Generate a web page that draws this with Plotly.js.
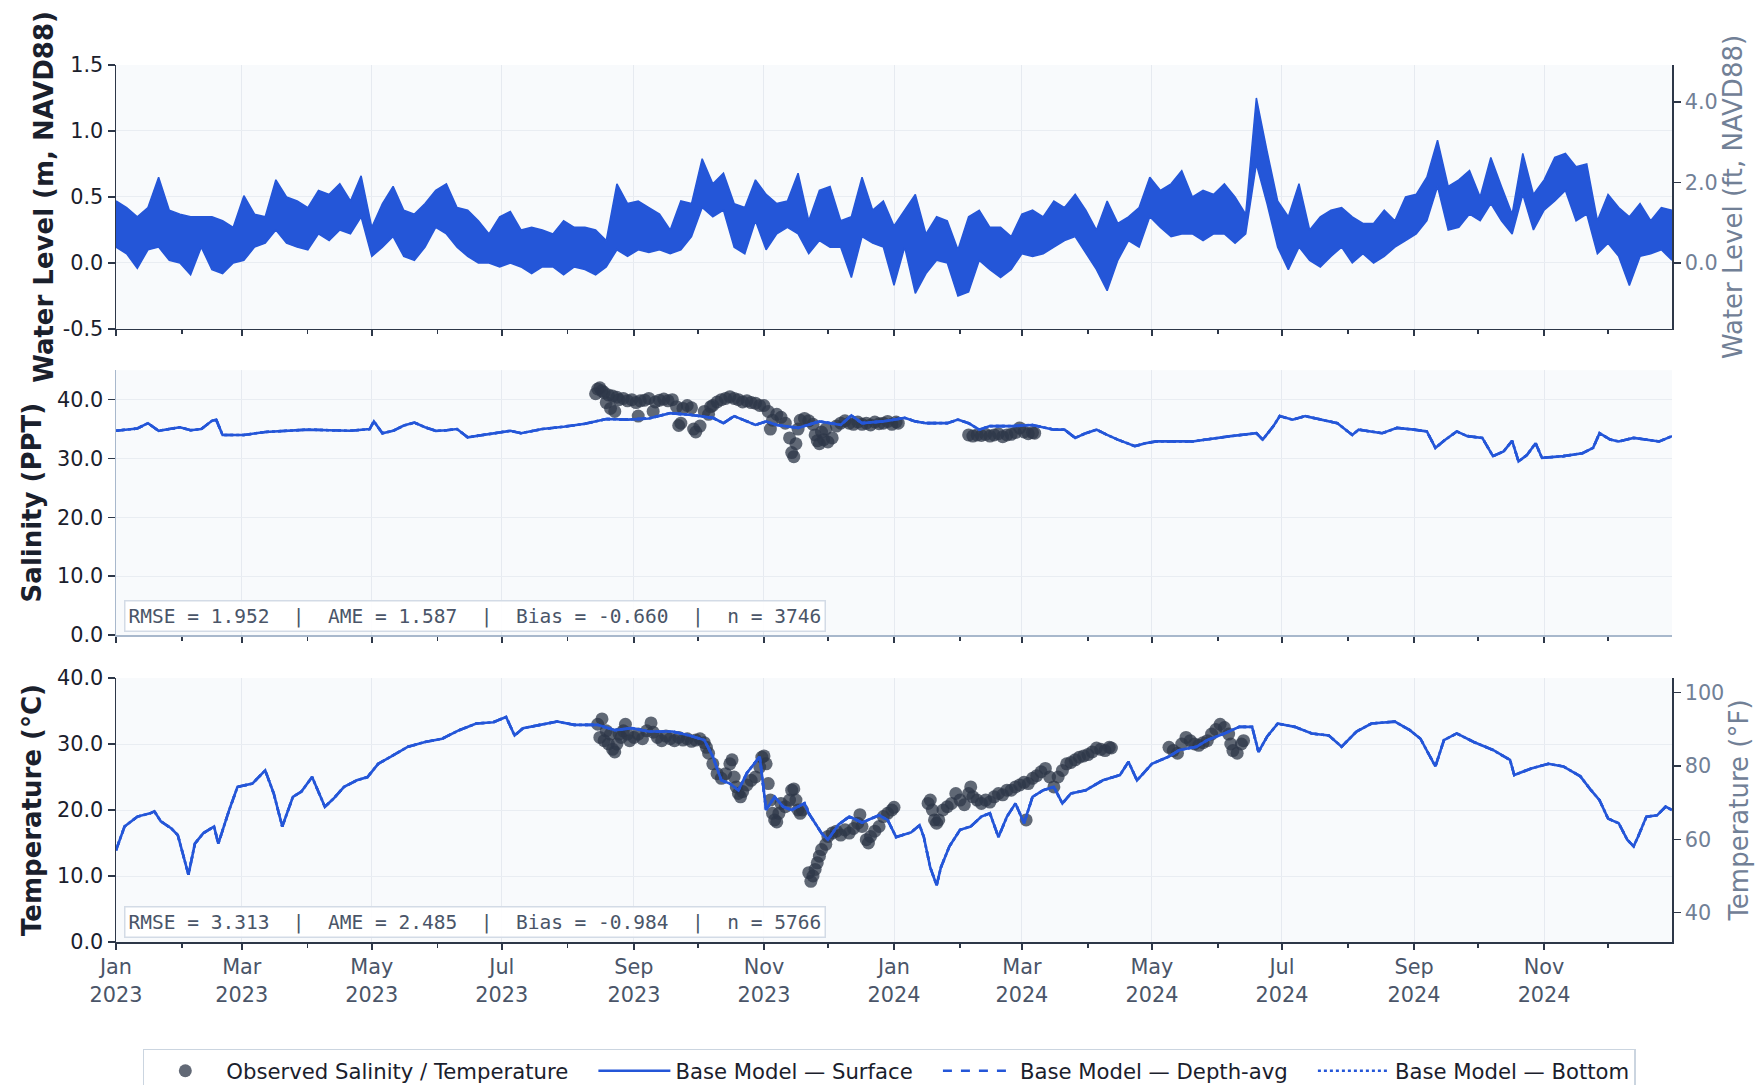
<!DOCTYPE html>
<html>
<head>
<meta charset="utf-8">
<script src="https://cdn.plot.ly/plotly-3.0.1.min.js"></script>
<style>html,body{margin:0;padding:0;background:#fff;}#chart{width:1760px;height:1085px;}</style>
</head>
<body>
<div id="chart"></div>
<script>
// ---------------- DATA (day offsets from 2023-01-01) ----------------
const startDate = '2023-01-01';

// Water level envelope (m, NAVD88), sampled every 5 days (day 0 .. 730)
const wlStepDays = 5;
const wlHigh = [0.47,0.42,0.35,0.42,0.65,0.40,0.37,0.35,0.35,0.35,0.32,0.27,0.51,0.37,0.35,0.63,0.50,0.47,0.42,0.55,0.52,0.60,0.47,0.66,0.27,0.45,0.58,0.40,0.37,0.45,0.55,0.60,0.42,0.40,0.32,0.22,0.35,
  0.39,0.25,0.27,0.25,0.22,0.32,0.27,0.27,0.25,0.17,0.60,0.45,0.47,0.42,0.37,0.25,0.47,0.45,0.79,0.60,0.68,0.45,0.42,0.63,0.52,0.45,0.47,0.68,0.32,0.55,0.58,0.32,0.35,0.65,0.40,0.47,0.28,
  0.40,0.52,0.22,0.35,0.32,0.10,0.35,0.40,0.27,0.27,0.20,0.37,0.40,0.35,0.47,0.42,0.52,0.40,0.25,0.47,0.30,0.35,0.42,0.65,0.55,0.60,0.70,0.50,0.55,0.52,0.60,0.50,0.37,1.25,0.85,0.47,0.35,
  0.60,0.25,0.35,0.40,0.42,0.35,0.30,0.30,0.40,0.32,0.50,0.52,0.65,0.93,0.58,0.63,0.70,0.50,0.80,0.58,0.37,0.83,0.52,0.63,0.80,0.83,0.73,0.75,0.32,0.52,0.42,0.35,0.45,0.32,0.42,0.40];
const wlLow = [0.12,0.07,-0.04,0.10,0.12,0.02,0.00,-0.09,0.12,-0.05,-0.08,0.00,0.02,0.12,0.15,0.25,0.15,0.12,0.10,0.22,0.17,0.25,0.22,0.35,0.05,0.12,0.20,0.05,0.02,0.12,0.27,0.22,0.12,0.05,0.00,0.00,-0.03,
  0.00,-0.03,-0.08,-0.03,-0.03,-0.09,-0.03,-0.05,-0.09,-0.03,0.10,0.05,0.10,0.08,0.10,0.07,0.10,0.20,0.42,0.35,0.40,0.12,0.07,0.32,0.10,0.22,0.27,0.22,0.07,0.17,0.12,0.12,-0.11,0.20,0.15,0.12,-0.17,
  0.12,-0.23,-0.08,0.02,0.00,-0.25,-0.22,0.02,-0.05,-0.11,-0.05,0.07,0.05,0.07,0.12,0.17,0.20,0.07,-0.05,-0.21,0.02,0.17,0.12,0.35,0.27,0.20,0.22,0.22,0.17,0.22,0.22,0.15,0.22,0.75,0.45,0.12,-0.05,
  0.12,0.02,-0.03,0.05,0.12,0.00,0.07,0.00,0.05,0.12,0.17,0.22,0.32,0.58,0.25,0.27,0.37,0.32,0.45,0.32,0.22,0.52,0.25,0.40,0.47,0.55,0.32,0.37,0.07,0.15,0.05,-0.17,0.05,0.07,0.10,0.02];

// Salinity (PPT) – model surface
const salModelDay = [0,5,10,15,20,25,30,35,40,45,47,50,60,70,80,90,100,110,119,121,125,130,135,140,145,150,155,160,165,170,175,180,185,190,200,210,220,230,240,250,260,270,280,285,290,300,305,310,320,330,340,345,350,360,370,375,380,390,395,400,405,410,420,430,440,445,450,455,460,465,470,478,483,488,505,523,535,538,543,546,552,558,566,573,580,583,594,601,609,615,619,623,629,634,641,646,651,655,658,662,666,669,679,688,693,696,701,705,712,719,724,730];
const salModel = [34.7,34.9,35.1,36.0,34.7,35.0,35.3,34.8,35.0,36.4,36.6,34.0,34.0,34.5,34.7,34.9,34.8,34.7,35.0,36.3,34.3,34.7,35.6,36.1,35.3,34.7,34.8,35.0,33.6,33.9,34.1,34.4,34.7,34.3,35.0,35.4,35.9,36.7,36.6,36.8,37.7,37.4,36.9,36.0,37.2,35.7,36.3,35.7,35.2,36.3,35.7,37.3,36.0,36.3,36.9,36.3,36.0,36.0,36.6,36.0,34.9,35.5,35.5,35.7,34.9,34.9,33.5,34.3,34.9,34.0,33.2,32.1,32.6,32.9,32.9,33.8,34.3,33.2,35.5,37.2,36.6,37.2,36.6,36.0,34.0,34.9,34.3,35.2,34.9,34.6,31.8,33.0,34.6,33.8,33.5,30.4,31.2,33.0,29.5,30.6,32.6,30.1,30.4,30.9,31.8,34.3,33.2,32.9,33.5,33.2,32.9,33.8];

// Salinity – observed
const salObsDay = [225,226,227,228,229,230,231,232,233,234,235,236,238,240,242,244,245,246,248,250,252,253,255,257,259,261,263,264,265,266,268,270,271,272,274,276,278,279,280,282,284,286,288,290,292,294,296,298,300,302,304,306,307,308,310,312,314,316,317,318,319,320,321,323,325,327,328,329,330,331,332,333,334,336,338,340,342,344,346,348,350,352,354,356,358,360,362,364,366,367,400,402,404,406,408,410,412,414,416,418,420,422,424,426,428,430,431];
const salObs = [41.0,41.8,42.0,41.5,41.2,39.5,40.8,38.5,40.6,38.0,40.4,40.0,40.2,39.8,40.0,39.5,37.2,39.8,39.9,40.2,38.0,39.6,39.9,40.1,39.8,40.0,38.8,35.6,36.0,38.5,39.0,38.6,35.0,34.5,35.5,38.0,37.5,38.8,39.0,39.6,40.0,40.2,40.5,40.2,40.0,39.6,39.8,39.5,39.4,39.0,39.0,38.0,35.0,36.5,37.5,37.0,36.0,33.5,31.0,30.3,32.5,35.0,36.5,36.8,36.4,35.8,34.0,33.0,32.5,34.5,33.2,35.0,32.8,33.5,35.5,36.0,36.4,36.0,35.8,36.2,35.8,36.0,35.7,36.2,35.9,36.0,36.3,35.8,36.2,36.0,34.0,33.8,34.0,33.9,34.1,33.8,34.0,34.2,33.7,34.0,34.1,34.4,35.2,34.5,34.2,34.4,34.3];

// Temperature (°C) – model surface
const tempModelDay = [0,4,10,16,18,21,26,29,34,37,41,46,48,53,57,64,70,74,78,83,87,92,98,102,107,113,118,123,129,137,145,153,161,169,177,183,187,191,199,207,215,226,234,242,250,261,269,276,280,284,288,292,296,302,305,309,313,317,323,325,331,334,339,344,350,358,362,366,373,377,379,382,385,387,391,396,401,406,410,414,418,422,426,430,435,440,444,448,455,463,471,475,479,486,494,499,507,512,520,527,533,536,540,545,553,561,569,575,582,589,600,607,612,619,623,629,637,646,654,656,664,672,679,687,692,696,700,705,709,712,714,718,723,727,730];
const tempModel = [13.9,17.5,19.0,19.5,19.8,18.3,17.2,16.2,10.2,14.9,16.5,17.5,14.9,19.9,23.5,24.0,26.0,22.5,17.5,22.0,22.8,25.0,20.5,21.7,23.5,24.5,25.0,27.0,28.1,29.6,30.3,30.8,32.1,33.1,33.3,34.1,31.3,32.4,32.9,33.4,32.9,32.9,32.1,32.4,31.9,31.9,31.3,30.6,28.1,24.5,24.0,23.0,25.6,28.1,20.0,22.0,20.5,20.0,21.0,19.5,16.5,15.5,17.8,19.0,18.1,19.2,18.5,15.9,16.6,17.7,15.9,11.3,8.6,11.3,14.5,17.0,17.5,19.0,19.5,15.9,19.0,21.0,18.0,22.0,23.0,23.5,21.0,22.5,23.0,24.5,25.3,27.3,24.5,27.0,28.1,29.1,29.6,30.6,31.6,32.6,32.6,28.8,31.1,33.1,32.6,31.6,31.3,29.6,31.9,33.1,33.4,32.1,30.8,26.6,30.6,31.6,30.3,29.1,27.6,25.3,26.3,27.0,26.6,25.1,23.0,21.5,18.7,18.0,15.5,14.5,15.9,19.0,19.2,20.5,20.0];

// Temperature – observed
const tempObsDay = [226,227,228,229,230,231,232,233,234,235,236,237,238,239,240,241,243,245,247,249,251,252,254,256,258,260,262,264,266,268,270,272,274,276,277,278,280,282,284,286,288,289,290,291,292,293,294,296,298,300,302,303,304,305,306,307,308,309,310,311,312,314,316,317,318,319,320,321,322,325,326,327,328,329,330,331,333,334,336,338,340,342,344,346,348,349,350,352,353,354,356,358,360,362,364,365,381,382,383,384,385,386,388,390,392,394,396,398,400,401,402,404,406,408,410,412,414,416,418,420,422,424,426,427,428,430,432,434,436,438,440,442,444,446,448,450,452,454,456,458,460,462,464,466,467,494,496,498,500,502,504,506,508,510,512,514,516,518,520,522,523,524,526,528,529];
const tempObs = [33.0,31.0,33.8,30.5,32.0,30.0,31.5,29.2,28.8,30.0,31.5,31.0,32.0,33.0,31.5,30.5,31.0,31.5,30.8,32.0,33.2,31.8,31.0,30.5,31.2,30.8,30.5,31.0,30.6,30.8,30.4,30.6,30.8,30.2,29.5,28.6,27.0,25.5,24.8,25.5,27.0,27.6,25.0,23.5,22.5,22.0,22.8,23.8,24.5,25.0,26.5,28.0,28.2,27.0,24.0,21.5,19.5,18.5,18.2,19.5,21.0,20.5,21.5,23.0,23.2,21.5,20.0,19.5,20.0,10.5,9.2,10.0,11.0,12.0,13.0,14.0,14.8,16.0,16.5,16.8,16.2,17.0,16.5,17.2,18.0,19.3,17.5,15.5,15.0,16.0,16.8,17.5,19.0,19.5,20.0,20.4,21.0,21.5,20.0,18.5,18.0,18.5,20.0,20.5,21.0,22.5,21.5,20.8,22.5,23.5,22.0,21.5,21.0,21.5,21.2,22.0,22.5,22.3,23.0,23.0,23.5,23.8,24.2,18.5,24.0,24.8,25.2,25.8,26.3,25.0,23.5,25.0,26.0,27.0,27.2,27.6,28.0,28.2,28.4,28.8,29.4,29.2,29.0,29.5,29.4,29.5,29.0,28.6,30.0,31.0,30.5,30.0,29.8,30.2,30.5,31.5,32.2,33.0,32.5,31.5,30.0,29.0,28.6,30.0,30.5];

// Stats text
const salStats = {rmse: '1.952', ame: '1.587', bias: '-0.660', n: '3746'};
const tempStats = {rmse: '3.313', ame: '2.485', bias: '-0.984', n: '5766'};

// Axis ticks
const wlTickVals = [-0.5, 0, 0.5, 1.0, 1.5];
const wlTickText = ['-0.5', '0.0', '0.5', '1.0', '1.5'];
const wlFtTickVals = [0, 2, 4];
const salTickVals = [0, 10, 20, 30, 40];
const tempTickVals = [0, 10, 20, 30, 40];
const tempFTickVals = [40, 60, 80, 100];

const legendNames = ['Observed Salinity / Temperature', 'Base Model \u2014 Surface', 'Base Model \u2014 Depth-avg', 'Base Model \u2014 Bottom'];
const legendPad = '\u00a0\u00a0\u00a0';

// ---------------- helpers ----------------
const t0 = Date.UTC(2023, 0, 1);
function d2s(d) { return new Date(t0 + d * 86400000).toISOString().slice(0, 10); }
const wlDates = wlHigh.map((_, i) => d2s(i * wlStepDays));

const BLUE = '#2456d8';
const OBS = '#2d3748';
const DARK = '#2d3748';
const FONT = 'DejaVu Sans';

const traces = [];
traces.push({x: wlDates, y: wlLow, xaxis: 'x', yaxis: 'y', mode: 'lines',
  line: {color: BLUE, width: 1.5}, showlegend: false, hoverinfo: 'skip'});
traces.push({x: wlDates, y: wlHigh, xaxis: 'x', yaxis: 'y', mode: 'lines', fill: 'tonexty',
  fillcolor: BLUE, line: {color: BLUE, width: 1.5}, showlegend: false, hoverinfo: 'skip'});

const obsMarker = {color: OBS, size: 13, opacity: 0.75, line: {width: 0}};
traces.push({x: salObsDay.map(d2s), y: salObs, xaxis: 'x2', yaxis: 'y2', mode: 'markers',
  marker: obsMarker, name: legendNames[0] + legendPad, legendgroup: 'obs', legendrank: 1});
traces.push({x: tempObsDay.map(d2s), y: tempObs, xaxis: 'x3', yaxis: 'y3', mode: 'markers',
  marker: obsMarker, name: legendNames[0], legendgroup: 'obs', showlegend: false});

const dashes = ['solid', 'dash', 'dot'];
[['x2', 'y2', salModelDay, salModel, true], ['x3', 'y3', tempModelDay, tempModel, false]].forEach(p => {
  dashes.forEach((ds, k) => {
    traces.push({x: p[2].map(d2s), y: p[3], xaxis: p[0], yaxis: p[1], mode: 'lines',
      line: {color: BLUE, width: 2.6, dash: ds}, name: legendNames[k + 1] + (k < 2 ? legendPad : ''),
      legendgroup: 'm' + k, legendrank: k + 2, showlegend: p[4]});
  });
});

// placeholders so the secondary (imperial-unit) axes are drawn
traces.push({x: [startDate], y: [null], xaxis: 'x', yaxis: 'y4', mode: 'lines', showlegend: false, hoverinfo: 'skip'});
traces.push({x: [startDate], y: [null], xaxis: 'x3', yaxis: 'y5', mode: 'lines', showlegend: false, hoverinfo: 'skip'});

// ---------------- layout ----------------
const xRange = ['2023-01-01', '2024-12-31'];
function xAxis(anchor, labels, lineColor) {
  return {
    type: 'date', anchor: anchor, range: xRange, domain: [0, 1],
    dtick: 'M2', tick0: '2023-01-01', tickformat: '%b<br>%Y',
    showticklabels: labels, ticks: 'outside', ticklen: 6, tickwidth: 1.5, tickcolor: DARK,
    tickfont: {family: FONT, size: 20.8, color: '#4a5568'},
    minor: {dtick: 'M1', tick0: '2023-01-01', ticks: 'outside', ticklen: 4, tickwidth: 1.2, tickcolor: DARK, showgrid: false},
    showgrid: true, gridcolor: '#e6eaf0', gridwidth: 1,
    showline: true, linecolor: lineColor, linewidth: 1.5, zeroline: false
  };
}
function yLeft(anchor, domain, range, tickvals, title, lineColor, standoff) {
  return {
    anchor: anchor, domain: domain, range: range, tickvals: tickvals, tickformat: '.1f',
    ticks: 'outside', ticklen: 7, tickwidth: 1.5, tickcolor: DARK,
    tickfont: {family: FONT, size: 20.8, color: '#1a202c'},
    showgrid: true, gridcolor: '#e9edf2', zeroline: false,
    showline: true, linecolor: lineColor, linewidth: 1.5,
    title: {text: title, font: {family: FONT, size: 26, color: '#1a202c', weight: 'bold'}, standoff: standoff}
  };
}
function yRight(overlay, anchor, range, tickvals, fmt, title) {
  return {
    overlaying: overlay, anchor: anchor, side: 'right', range: range, tickvals: tickvals, tickformat: fmt,
    ticks: 'outside', ticklen: 7, tickwidth: 1.5, tickcolor: DARK,
    tickfont: {family: FONT, size: 20.8, color: '#718096'},
    showgrid: false, zeroline: false, showline: true, linecolor: DARK, linewidth: 1.5,
    title: {text: title, font: {family: FONT, size: 26, color: '#718096'}, standoff: 5}
  };
}

const M = 3.28084;
function statText(s) {
  const sp = '\u00a0\u00a0|\u00a0\u00a0';
  return 'RMSE\u00a0=\u00a0' + s.rmse + sp + 'AME\u00a0=\u00a0' + s.ame + sp + 'Bias\u00a0=\u00a0' + s.bias + sp + 'n\u00a0=\u00a0' + s.n;
}
function statAnn(s, y) {
  return {text: statText(s), xref: 'paper', yref: 'paper', x: 0.005, y: y, xanchor: 'left', yanchor: 'bottom',
    showarrow: false, font: {family: 'DejaVu Sans Mono', size: 19.5, color: '#4a5568'},
    bgcolor: 'rgba(255,255,255,0.9)', bordercolor: '#d3dbe6', borderwidth: 1.5, borderpad: 3};
}

const yWL = yLeft('x', [0.699, 1.0], [-0.5, 1.5], wlTickVals, 'Water Level (m, NAVD88)', DARK, 1);
yWL.ticktext = wlTickText;

const layout = {
  width: 1760, height: 1085,
  margin: {l: 116, r: 88, t: 65, b: 143, autoexpand: false},
  paper_bgcolor: '#ffffff', plot_bgcolor: '#f8fafc',
  font: {family: FONT, size: 20.8, color: '#1a202c'},
  showlegend: true,
  legend: {orientation: 'h', x: 0.497, xanchor: 'center', y: -0.122, yanchor: 'top',
    font: {family: FONT, size: 21.2, color: '#1a202c'}, bgcolor: '#ffffff',
    bordercolor: '#cbd5e0', borderwidth: 1.5, traceorder: 'normal', itemwidth: 72},
  xaxis: xAxis('y', false, DARK),
  xaxis2: Object.assign(xAxis('y2', false, '#a8b8cc'), {matches: 'x'}),
  xaxis3: Object.assign(xAxis('y3', true, DARK), {matches: 'x'}),
  yaxis: yWL,
  yaxis2: yLeft('x2', [0.350, 0.652], [0, 45], salTickVals, 'Salinity (PPT)', '#a8b8cc', 8),
  yaxis3: yLeft('x3', [0, 0.301], [0, 40], tempTickVals, 'Temperature (\u00b0C)', DARK, 8),
  yaxis4: yRight('y', 'x', [-0.5 * M, 1.5 * M], wlFtTickVals, '.1f', 'Water Level (ft, NAVD88)'),
  yaxis5: yRight('y3', 'x3', [32, 104], tempFTickVals, 'd', 'Temperature (\u00b0F)'),
  annotations: [statAnn(salStats, 0.3535), statAnn(tempStats, 0.0046)]
};

Plotly.newPlot('chart', traces, layout, {displayModeBar: false, staticPlot: true});
</script>
</body>
</html>
